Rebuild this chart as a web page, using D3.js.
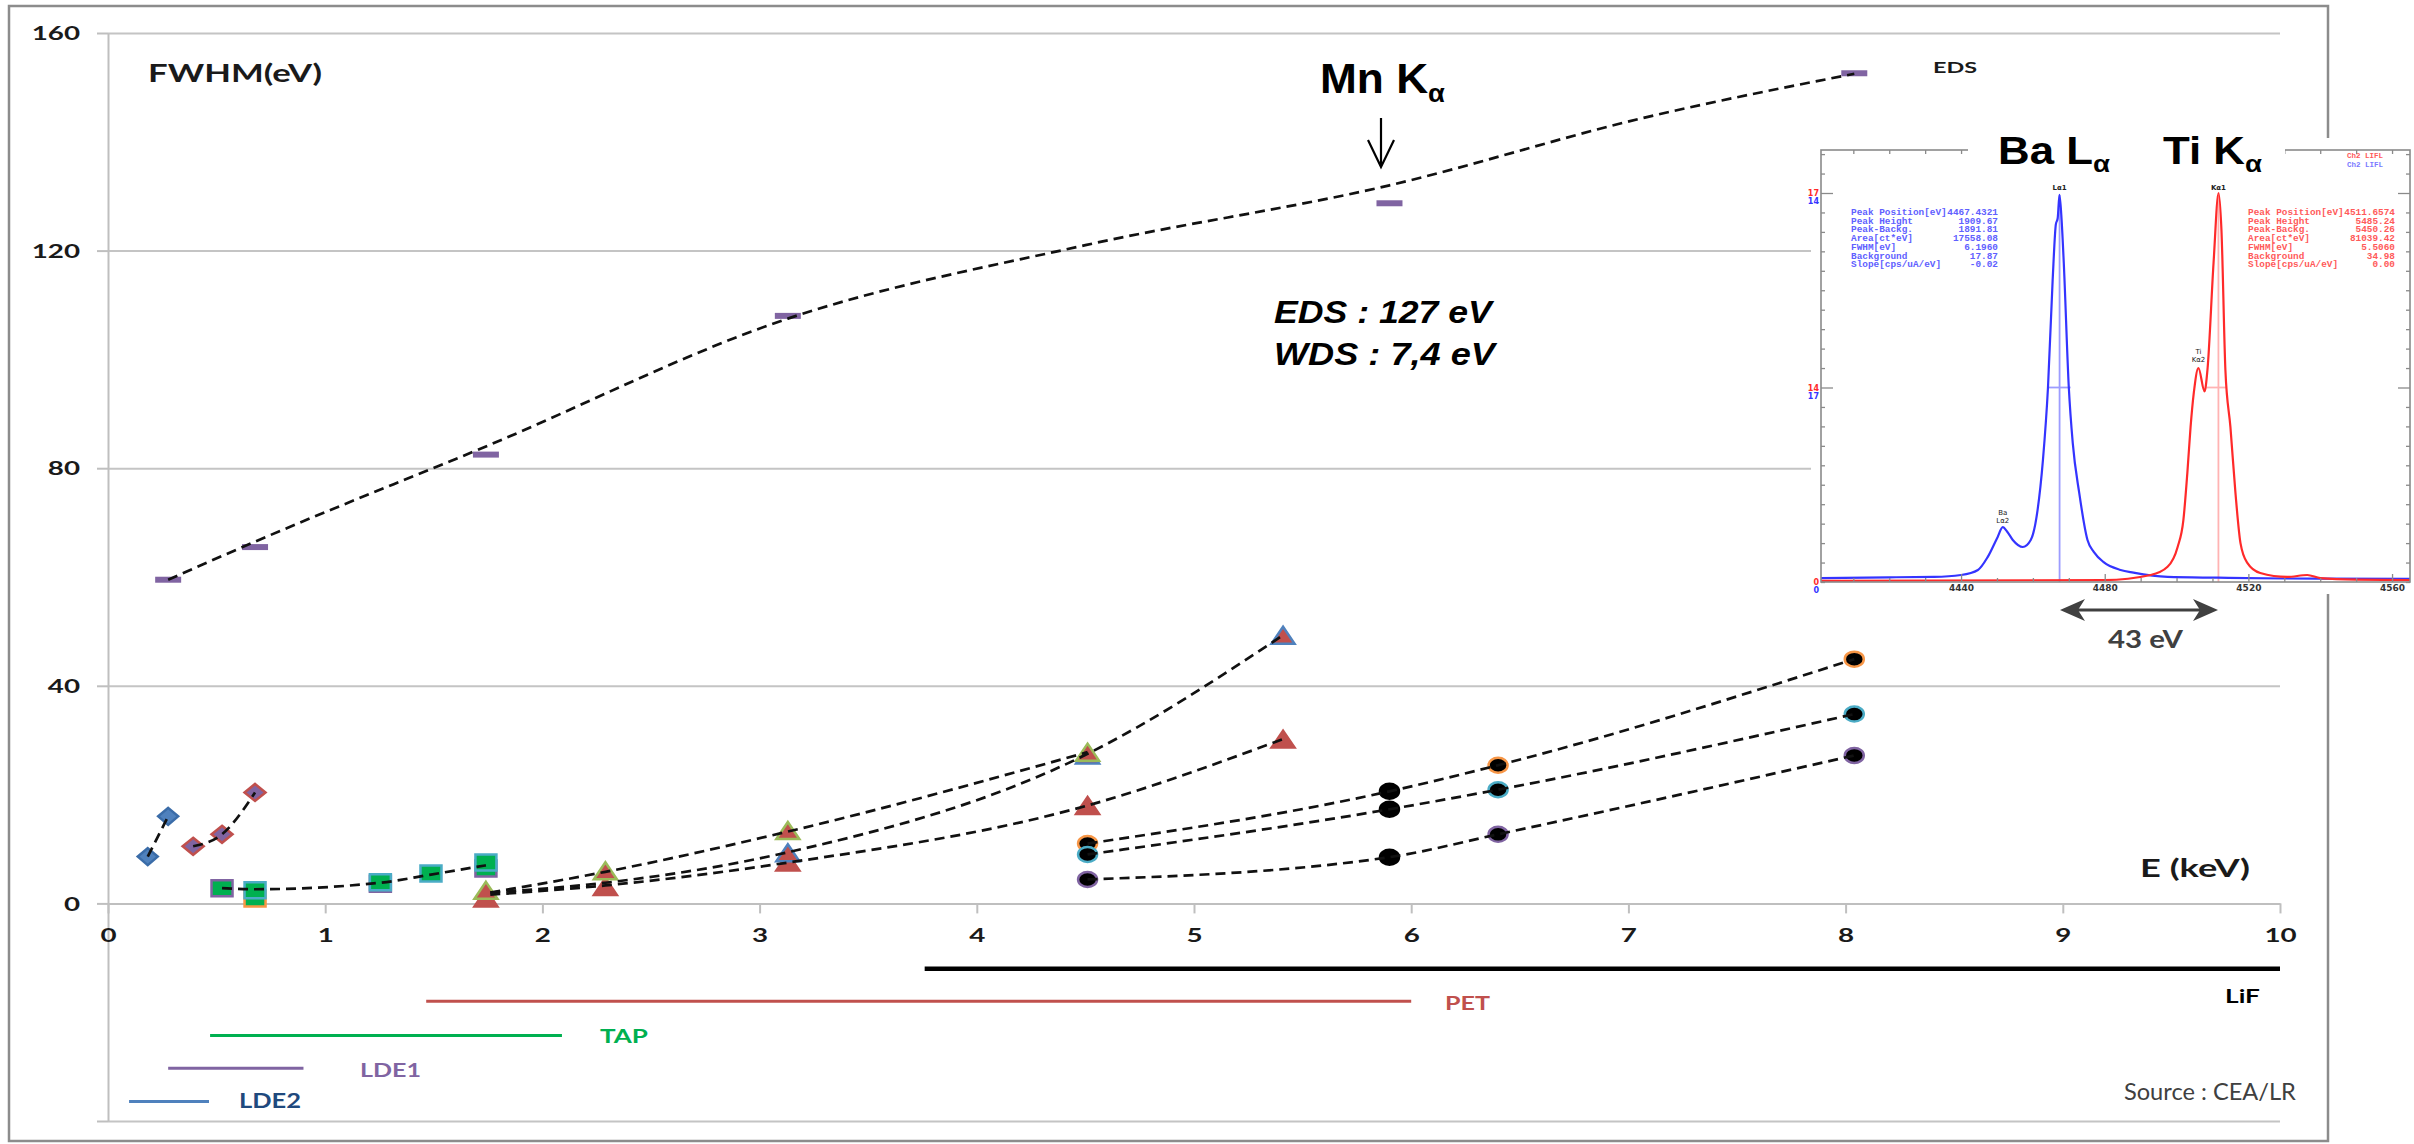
<!DOCTYPE html>
<html>
<head>
<meta charset="utf-8">
<script src="https://cdnjs.cloudflare.com/ajax/libs/d3/7.8.5/d3.min.js"></script>
<style>
  html, body { margin: 0; padding: 0; background: #fff; }
  svg { display: block; }
</style>
</head>
<body>
<svg id="chart" width="2414" height="1144"></svg>
<script>
// ---------- data ----------
const xTicks = [0, 1, 2, 3, 4, 5, 6, 7, 8, 9, 10];
const yTicks = [-40, 0, 40, 80, 120, 160];

// EDS detector, markers + fitted trend
const edsE = [0.277, 0.677, 1.74, 3.13, 5.9, 8.04];
const edsFwhm = [59.5, 65.5, 82.5, 108, 128.7, 152.6];
const edsTrend = [[0.277, 59.5], [0.677, 66.5], [1.74, 84], [3.13, 107.5], [4.5, 121], [5.9, 132], [7.08, 144.5], [8.04, 152.5]];

// WDS crystals [E keV, FWHM eV]
const lde2 = [[0.183, 8.6], [0.277, 16]];
const lde1 = [[0.392, 10.5], [0.525, 12.7], [0.677, 20.4]];
const tapOrange = [[0.677, 0.9]];
const tapPurple = [[0.525, 2.8], [1.254, 3.6], [1.74, 6.4]];
const tapCyan = [[0.677, 2.4], [1.254, 3.9], [1.487, 5.5], [1.74, 7.5]];
const petRed = [[1.74, 1.0], [2.29, 3.1], [3.13, 7.6], [4.51, 18.0], [5.41, 30.2]];
const petBlue = [[3.13, 9.3], [4.51, 27.3], [5.41, 49.3]];
const petGreen = [[1.74, 2.4], [2.29, 6.0], [3.13, 13.4], [4.51, 27.8]];
const lifOrange = [[4.51, 11.0], [6.4, 25.4], [8.04, 44.9]];
const lifCyan = [[4.51, 9.0], [6.4, 20.9], [8.04, 34.8]];
const lifPurple = [[4.51, 4.4], [6.4, 12.7], [8.04, 27.2]];
const lifMn = [[5.9, 20.6], [5.9, 17.3], [5.9, 8.5]];

// dashed trend curves through the WDS points
const tapTrend = [[0.525, 2.8], [0.677, 2.6], [1.254, 3.8], [1.487, 5.3], [1.74, 7.0]];
const petTrend1 = [[1.76, 2.0], [2.29, 5.8], [3.13, 13.2], [4.51, 27.8]];
const petTrend2 = [[1.76, 2.0], [2.29, 3.8], [3.13, 9.4], [4.51, 27.5], [5.41, 49.3]];
const petTrend3 = [[1.76, 1.6], [2.29, 3.3], [3.13, 7.5], [4.51, 18.0], [5.41, 30.2]];
const lifTrend1 = [[4.51, 11.0], [5.9, 20.6], [6.4, 25.4], [8.04, 44.9]];
const lifTrend2 = [[4.51, 9.0], [5.9, 17.3], [6.4, 20.9], [8.04, 34.8]];
const lifTrend3 = [[4.51, 4.4], [5.9, 8.5], [6.4, 12.7], [8.04, 27.2]];

// crystal energy ranges (drawn below the axis)
const crystals = ["LiF", "PET", "TAP", "LDE1", "LDE2"];
const rangeStart = [3.76, 1.465, 0.47, 0.277, 0.097];
const rangeEnd = [10, 6.0, 2.09, 0.9, 0.465];
const rangeLevel = [-12, -18, -24.3, -30.3, -36.4];

// inset spectrum: Ba La (blue) and Ti Ka (red), normalised intensity
const baE = [4401, 4420, 4432.5, 4440, 4444.7, 4447.4, 4450.2, 4451.6, 4452.8, 4454.4, 4457.2, 4459.4, 4461.3, 4462.8, 4464.2, 4465.5, 4466.4, 4466.9, 4467.4, 4468.0, 4468.6, 4470, 4471.1, 4472.9, 4475.2, 4477, 4479.7, 4484.4, 4488, 4497.5, 4511.4, 4530, 4565];
const baI = [0.01, 0.012, 0.013, 0.018, 0.031, 0.064, 0.116, 0.141, 0.13, 0.108, 0.09, 0.108, 0.185, 0.314, 0.50, 0.776, 0.92, 0.935, 0.995, 0.93, 0.82, 0.50, 0.357, 0.229, 0.108, 0.077, 0.051, 0.031, 0.024, 0.013, 0.011, 0.009, 0.008];
const tiE = [4401, 4480, 4492.8, 4497.5, 4500.3, 4501.9, 4503, 4503.9, 4504.8, 4506.1, 4507.8, 4508.6, 4510.3, 4511.7, 4512.5, 4513.6, 4515, 4516.4, 4517.8, 4519.7, 4523.3, 4530.8, 4536.4, 4540, 4550, 4565];
const tiI = [0.003, 0.005, 0.018, 0.039, 0.09, 0.159, 0.28, 0.398, 0.486, 0.55, 0.49, 0.545, 0.82, 1.0, 0.905, 0.545, 0.398, 0.229, 0.10, 0.049, 0.023, 0.013, 0.018, 0.01, 0.006, 0.005];
const peakPos = [4467.43, 4511.66];
const fwhmBar = [[4464.3, 4470.5], [4508.3, 4513.8]];
const insetXTicks = [4410, 4420, 4430, 4440, 4450, 4460, 4470, 4480, 4490, 4500, 4510, 4520, 4530, 4540, 4550, 4560];
const insetXLabels = [4440, 4480, 4520, 4560];
const insetYMajor = [0.5, 1];
const statNames = ["Peak Position[eV]", "Peak Height", "Peak-Backg.", "Area[ct*eV]", "FWHM[eV]", "Background", "Slope[cps/uA/eV]"];
const baStats = ["4467.4321", "1909.67", "1891.81", "17558.08", "6.1960", "17.87", "-0.02"];
const tiStats = ["4511.6574", "5485.24", "5450.26", "81039.42", "5.5060", "34.98", "0.00"];

// ---------- drawing ----------
function addText(parent, str, o) {
  const t = parent.append("text")
    .attr("font-family", o.font || "Lato, sans-serif")
    .attr("font-size", o.size)
    .attr("font-weight", o.weight || "bold")
    .attr("font-style", o.italic ? "italic" : "normal")
    .attr("fill", o.color || "#1a1a1a")
    .attr("text-anchor", o.anchor || "start");
  if (Array.isArray(str)) {
    str.forEach(s => t.append("tspan").text(s.t)
      .attr("font-size", s.size || null).attr("dy", s.dy || null));
  } else {
    t.text(str);
  }
  let sx = o.sx || 1;
  if (o.w) sx = o.w / t.node().getComputedTextLength();
  t.attr("transform", `translate(${o.x},${o.y}) scale(${sx},1)`);
  return t;
}

function draw() {
  const svg = d3.select("#chart");
  svg.append("rect").attr("width", 2414).attr("height", 1144).attr("fill", "#fff");

  const x = d3.scaleLinear().domain([0, 10]).range([108, 2280]);
  const y = d3.scaleLinear().domain([-40, 160]).range([1121, 33]);
  const stretch = 1.5; // source picture is stretched horizontally

  // outer frame
  svg.append("rect").attr("x", 9).attr("y", 6).attr("width", 2319).attr("height", 1135)
    .attr("fill", "none").attr("stroke", "#8c8c8c").attr("stroke-width", 2.5);

  // gridlines
  const grid = svg.append("g").attr("transform", `translate(${x(0)},0)`)
    .call(d3.axisLeft(y).tickValues(yTicks).tickSize(-(x(10) - x(0))).tickFormat(""));
  grid.select(".domain").remove();
  grid.selectAll("line").attr("stroke", "#c4c4c4").attr("stroke-width", 2);

  // y axis
  const yAxis = svg.append("g").attr("transform", `translate(${x(0)},0)`)
    .call(d3.axisLeft(y).tickValues(yTicks).tickSizeInner(11).tickSizeOuter(0)
      .tickFormat(d => d < 0 ? "" : d));
  yAxis.select(".domain").attr("stroke", "#bfbfbf").attr("stroke-width", 2);
  yAxis.selectAll("line").attr("stroke", "#bfbfbf").attr("stroke-width", 2);
  yAxis.selectAll("text")
    .attr("x", 0).attr("dy", "0.36em")
    .attr("transform", `translate(-28,0) scale(${stretch},1)`)
    .attr("font-family", "Lato, sans-serif").attr("font-size", 18.5)
    .attr("font-weight", "bold").attr("fill", "#1a1a1a");

  // x axis
  const xAxis = svg.append("g").attr("transform", `translate(0,${y(0)})`)
    .call(d3.axisBottom(x).tickValues(xTicks).tickSizeInner(10).tickSizeOuter(0)
      .tickFormat(d3.format("d")));
  xAxis.select(".domain").attr("stroke", "#bfbfbf").attr("stroke-width", 2);
  xAxis.selectAll("line").attr("stroke", "#bfbfbf").attr("stroke-width", 2);
  xAxis.selectAll("text")
    .attr("y", 0).attr("dy", 0)
    .attr("transform", `translate(0,39) scale(${stretch},1)`)
    .attr("font-family", "Lato, sans-serif").attr("font-size", 18.5)
    .attr("font-weight", "bold").attr("fill", "#1a1a1a");

  // crystal ranges
  const rangeColor = ["#000000", "#C0504D", "#00B050", "#8064A2", "#4F81BD"];
  const rangeWidth = [4.5, 3, 3, 3, 3];
  const labelColor = ["#000000", "#C0504D", "#00B050", "#8064A2", "#1F497D"];
  const labelPos = [[2225, 1003, 35, 18], [1445, 1010, 45, 18], [600, 1043, 48, 19], [360, 1077, 61, 19], [239, 1108, 62, 20]];
  crystals.forEach((c, i) => {
    svg.append("line")
      .attr("x1", x(rangeStart[i])).attr("x2", x(rangeEnd[i]))
      .attr("y1", y(rangeLevel[i])).attr("y2", y(rangeLevel[i]))
      .attr("stroke", rangeColor[i]).attr("stroke-width", rangeWidth[i]);
    const p = labelPos[i];
    addText(svg, c, { x: p[0], y: p[1], w: p[2], size: p[3], color: labelColor[i] });
  });

  // markers
  const shapes = {
    rect: (w, h) => `M${-w / 2},${-h / 2}h${w}v${h}h${-w}Z`,
    diamond: (w, h) => `M0,${-h / 2}L${w / 2},0L0,${h / 2}L${-w / 2},0Z`,
    triangle: (w, h) => `M0,${-h / 2}L${w / 2},${h / 2}L${-w / 2},${h / 2}Z`
  };
  const edsPts = edsE.map((e, i) => [e, edsFwhm[i]]);
  const markerSeries = [
    { data: edsPts, shape: "rect", w: 26, h: 6, fill: "#8064A2", stroke: "none" },
    { data: lde2, shape: "diamond", w: 20, h: 17, fill: "#4F81BD", stroke: "#3A6CA8" },
    { data: lde1, shape: "diamond", w: 21, h: 17, fill: "#8064A2", stroke: "#C0504D" },
    { data: tapOrange, shape: "rect", w: 21, h: 16, fill: "#00B050", stroke: "#F79646" },
    { data: tapPurple, shape: "rect", w: 21, h: 16, fill: "#00B050", stroke: "#8064A2" },
    { data: tapCyan, shape: "rect", w: 21, h: 16, fill: "#00B050", stroke: "#4BACC6" },
    { data: petRed, shape: "triangle", w: 23, h: 17, fill: "#C0504D", stroke: "#C0504D" },
    { data: petBlue, shape: "triangle", w: 23, h: 17, fill: "#C0504D", stroke: "#4F81BD" },
    { data: petGreen, shape: "triangle", w: 23, h: 17, fill: "#C0504D", stroke: "#9BBB59" },
    { data: lifOrange, shape: "ellipse", w: 19, h: 15, fill: "#000", stroke: "#F79646" },
    { data: lifCyan, shape: "ellipse", w: 19, h: 15, fill: "#000", stroke: "#4BACC6" },
    { data: lifPurple, shape: "ellipse", w: 19, h: 15, fill: "#000", stroke: "#8064A2" },
    { data: lifMn, shape: "ellipse", w: 19, h: 15, fill: "#000", stroke: "#000" }
  ];
  const mk = svg.append("g");
  markerSeries.forEach(s => {
    const sel = mk.append("g").selectAll("g").data(s.data).enter();
    if (s.shape === "ellipse") {
      sel.append("ellipse")
        .attr("cx", d => x(d[0])).attr("cy", d => y(d[1]))
        .attr("rx", s.w / 2).attr("ry", s.h / 2)
        .attr("fill", s.fill).attr("stroke", s.stroke).attr("stroke-width", 2.5);
    } else {
      sel.append("path")
        .attr("d", shapes[s.shape](s.w, s.h))
        .attr("transform", d => `translate(${x(d[0])},${y(d[1])})`)
        .attr("fill", s.fill).attr("stroke", s.stroke).attr("stroke-width", 2.5)
        .attr("stroke-linejoin", "miter");
    }
  });

  // dashed trend curves
  const trendLines = [edsTrend, lde2, lde1, tapTrend, petTrend1, petTrend2, petTrend3, lifTrend1, lifTrend2, lifTrend3];
  const line = d3.line().x(d => x(d[0])).y(d => y(d[1])).curve(d3.curveMonotoneX);
  svg.append("g").selectAll("path").data(trendLines).enter().append("path")
    .attr("d", line)
    .attr("fill", "none").attr("stroke", "#111").attr("stroke-width", 2.7)
    .attr("stroke-dasharray", "10,6");

  // axis titles / annotations
  addText(svg, "FWHM(eV)", { x: 148, y: 82, w: 174, size: 25 });
  addText(svg, "E (keV)", { x: 2140, y: 877, w: 110, size: 24 });
  addText(svg, "EDS", { x: 1933, y: 73, w: 44, size: 15 });
  addText(svg, [{ t: "Mn K" }, { t: "α", size: 26, dy: 9 }],
    { x: 1320, y: 93, w: 125, size: 42, font: "Liberation Sans, Arial, sans-serif", color: "#000" });
  svg.append("path")
    .attr("d", "M1381,118V166M1368,140L1381,167L1394,140")
    .attr("fill", "none").attr("stroke", "#000").attr("stroke-width", 2.2);
  addText(svg, "EDS : 127 eV", { x: 1274, y: 323, w: 218, size: 32, italic: true,
    font: "Liberation Sans, Arial, sans-serif", color: "#000" });
  addText(svg, "WDS : 7,4 eV", { x: 1274, y: 365, w: 221, size: 32, italic: true,
    font: "Liberation Sans, Arial, sans-serif", color: "#000" });
  addText(svg, "Source : CEA/LR", { x: 2124, y: 1100, w: 172, size: 23, weight: "normal", color: "#404040" });

  // ---------- inset spectrum ----------
  const ix = d3.scaleLinear().domain([4401, 4565]).range([1821, 2410]);
  const iy = d3.scaleLinear().domain([0, 1]).range([582, 193]);
  const inset = svg.append("g");
  inset.append("rect").attr("x", 1811).attr("y", 138).attr("width", 603).attr("height", 456).attr("fill", "#fff");

  // peak markers (position + FWHM bar)
  const peakCol = ["#9c9cff", "#ffb3b3"];
  peakPos.forEach((p, i) => {
    inset.append("line").attr("x1", ix(p)).attr("x2", ix(p)).attr("y1", iy(0.995)).attr("y2", iy(0))
      .attr("stroke", peakCol[i]).attr("stroke-width", 1.8);
    inset.append("line").attr("x1", ix(fwhmBar[i][0])).attr("x2", ix(fwhmBar[i][1]))
      .attr("y1", iy(0.5)).attr("y2", iy(0.5))
      .attr("stroke", peakCol[i]).attr("stroke-width", 1.8);
  });

  const sline = d3.line().x(d => ix(d[0])).y(d => iy(d[1])).curve(d3.curveMonotoneX);
  inset.append("path").attr("d", sline(baE.map((e, i) => [e, baI[i]])))
    .attr("fill", "none").attr("stroke", "#3434ff").attr("stroke-width", 2.2);
  inset.append("path").attr("d", sline(tiE.map((e, i) => [e, tiI[i]])))
    .attr("fill", "none").attr("stroke", "#ff2a2a").attr("stroke-width", 2.2);

  // inset frame and ticks
  const axCol = "#8a8a8a";
  inset.append("rect").attr("x", 1821).attr("y", 150).attr("width", 589).attr("height", 432)
    .attr("fill", "none").attr("stroke", axCol).attr("stroke-width", 1.6);
  const yT = d3.range(0, 1.12, 0.05);
  const isMajor = d => insetYMajor.some(m => Math.abs(m - d) < 1e-6);
  const iBottom = inset.append("g").attr("transform", `translate(0,${iy(0)})`)
    .call(d3.axisBottom(ix).tickValues(insetXTicks).tickSizeInner(-4).tickSizeOuter(0)
      .tickFormat(d => insetXLabels.includes(d) ? d : ""));
  iBottom.selectAll(".tick line").attr("y2", d => insetXLabels.includes(d) ? -8 : -4);
  const iTop = inset.append("g").attr("transform", "translate(0,150)")
    .call(d3.axisTop(ix).tickValues(insetXTicks).tickSizeInner(-4).tickSizeOuter(0).tickFormat(""));
  const iLeft = inset.append("g").attr("transform", "translate(1821,0)")
    .call(d3.axisLeft(iy).tickValues(yT).tickSizeInner(-4).tickSizeOuter(0).tickFormat(""));
  iLeft.selectAll(".tick line").attr("x2", d => isMajor(d) ? 12 : 4);
  const iRight = inset.append("g").attr("transform", "translate(2410,0)")
    .call(d3.axisRight(iy).tickValues(yT).tickSizeInner(-4).tickSizeOuter(0).tickFormat(""));
  iRight.selectAll(".tick line").attr("x2", d => isMajor(d) ? -12 : -4);
  [iBottom, iTop, iLeft, iRight].forEach(g => {
    g.select(".domain").remove();
    g.selectAll("line").attr("stroke", axCol).attr("stroke-width", 1.3);
  });
  iBottom.selectAll("text").attr("font-family", "DejaVu Sans, sans-serif").attr("font-size", 9)
    .attr("fill", "#333").attr("font-weight", "bold");

  // tiny left scale labels (red / blue channel)
  const sideLab = [["17", "14", 1], ["14", "17", 0.5], ["0", "0", 0]];
  sideLab.forEach(s => {
    addText(inset, s[0], { x: 1819, y: iy(s[2]) + 3, size: 8, anchor: "end", color: "#ff2a2a", font: "DejaVu Sans" });
    addText(inset, s[1], { x: 1819, y: iy(s[2]) + 11, size: 8, anchor: "end", color: "#3434ff", font: "DejaVu Sans" });
  });

  // statistic blocks
  statNames.forEach((n, i) => {
    const yy = 215 + i * 8.7;
    addText(inset, n, { x: 1851, y: yy, size: 9.4, weight: "bold", color: "#6060ff", font: "Liberation Mono, monospace" });
    addText(inset, baStats[i], { x: 1998, y: yy, size: 9.4, weight: "bold", anchor: "end", color: "#6060ff", font: "Liberation Mono, monospace" });
    addText(inset, n, { x: 2248, y: yy, size: 9.4, weight: "bold", color: "#ff5a5a", font: "Liberation Mono, monospace" });
    addText(inset, tiStats[i], { x: 2395, y: yy, size: 9.4, weight: "bold", anchor: "end", color: "#ff5a5a", font: "Liberation Mono, monospace" });
  });
  addText(inset, "Ch2 LIFL", { x: 2347, y: 158, size: 7.5, weight: "bold", color: "#ff5a5a", font: "Liberation Mono, monospace" });
  addText(inset, "Ch2 LIFL", { x: 2347, y: 167, size: 7.5, weight: "bold", color: "#7a7aff", font: "Liberation Mono, monospace" });

  // small peak labels
  addText(inset, "Lα1", { x: ix(peakPos[0]), y: 190, size: 7, anchor: "middle", font: "DejaVu Sans", color: "#222" });
  addText(inset, "Kα1", { x: ix(peakPos[1]), y: 190, size: 7, anchor: "middle", font: "DejaVu Sans", color: "#222" });
  addText(inset, "Ba", { x: ix(4451.6), y: 515, size: 7, anchor: "middle", weight: "normal", font: "DejaVu Sans", color: "#222" });
  addText(inset, "Lα2", { x: ix(4451.6), y: 523, size: 7, anchor: "middle", weight: "normal", font: "DejaVu Sans", color: "#222" });
  addText(inset, "Ti", { x: ix(4506.1), y: 354, size: 7, anchor: "middle", weight: "normal", font: "DejaVu Sans", color: "#222" });
  addText(inset, "Kα2", { x: ix(4506.1), y: 362, size: 7, anchor: "middle", weight: "normal", font: "DejaVu Sans", color: "#222" });

  // big peak titles on a white box
  inset.append("rect").attr("x", 1968).attr("y", 120).attr("width", 317).attr("height", 56).attr("fill", "#fff");
  addText(inset, [{ t: "Ba L" }, { t: "α", size: 24, dy: 8 }],
    { x: 1998, y: 164, w: 112, size: 38, font: "Liberation Sans, Arial, sans-serif", color: "#000" });
  addText(inset, [{ t: "Ti K" }, { t: "α", size: 24, dy: 8 }],
    { x: 2163, y: 164, w: 99, size: 38, font: "Liberation Sans, Arial, sans-serif", color: "#000" });

  // 43 eV double arrow
  svg.append("line").attr("x1", 2068).attr("x2", 2210).attr("y1", 610).attr("y2", 610)
    .attr("stroke", "#404040").attr("stroke-width", 3);
  svg.append("path")
    .attr("d", "M2060,610L2085,599L2078,610L2085,621Z M2218,610L2193,599L2200,610L2193,621Z")
    .attr("fill", "#404040");
  addText(svg, "43 eV", { x: 2108, y: 648, w: 75, size: 24, color: "#404040" });
}

document.fonts.ready.then(draw);
</script>
</body>
</html>
